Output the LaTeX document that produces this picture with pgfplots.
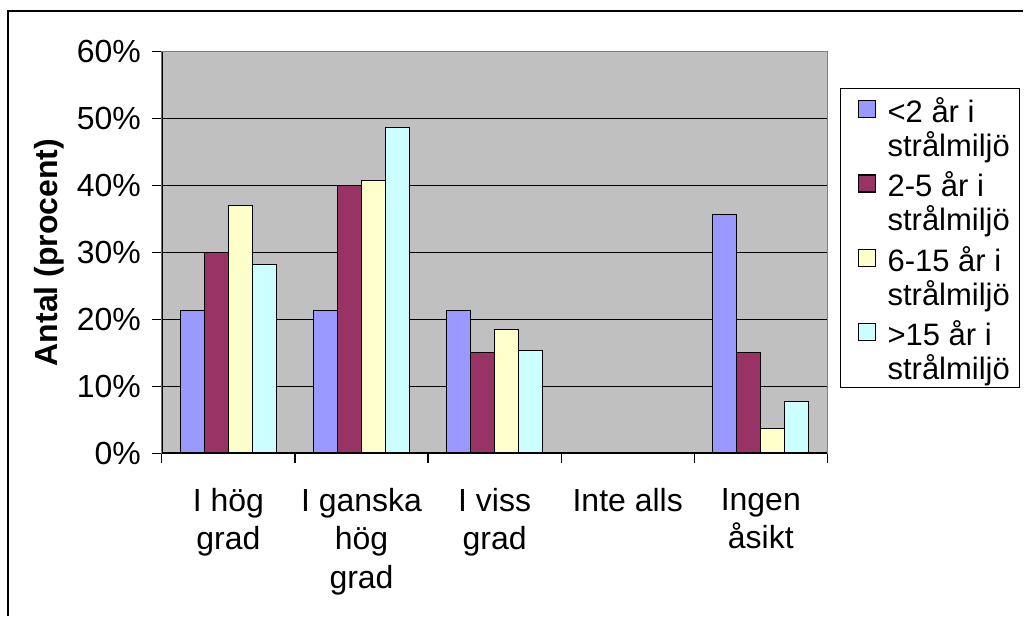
\documentclass[border=0pt]{standalone}
\usepackage{pgfplots}
\pgfplotsset{compat=1.18}
\usepackage{fontspec}
\setmainfont{Liberation Sans}
\definecolor{serA}{HTML}{9999FF}
\definecolor{serB}{HTML}{993366}
\definecolor{serC}{HTML}{FFFFCC}
\definecolor{serD}{HTML}{CCFFFF}
\definecolor{plotgray}{HTML}{C0C0C0}
% legend square with room on both sides
\pgfplotsset{sq/.style={legend image code/.code={
      \path[draw=none,fill=none] (0pt,0pt) -- (18.6pt,0pt);
      \draw[fill=#1,draw=black,line width=0.6pt] (6pt,-3.9pt) rectangle (14.5pt,4.6pt);}}}
\tikzset{first/.style={text height=16.5pt, text depth=4pt},
  second/.style={text height=13pt, text depth=3.7pt}}

\begin{document}
\begin{tikzpicture}
\begin{axis}[
    scale only axis,
    width=333pt, height=200.8pt,
    xmin=-0.5, xmax=4.5,
    ymin=0, ymax=60,
    ytick={0,10,...,60},
    yticklabel={\pgfmathprintnumber{\tick}\%},
    /pgf/number format/assume math mode=true,
    xtick={-0.5,0.5,...,4.5},
    xticklabels={{I hög\\grad},{I ganska\\hög\\grad},{I viss\\grad},{Inte alls},{Ingen\\åsikt}},
    x tick label as interval,
    xticklabel style={align=center, anchor=north, yshift=-9pt},
    yticklabel style={xshift=-2pt},
    tick align=outside,
    xtick pos=bottom, ytick pos=left,
    major tick length=5pt,
    tick style={black, line width=0.6pt},
    ymajorgrids,
    grid style={black, line width=0.6pt},
    axis line style={draw=gray, line width=0.6pt},
    axis background/.style={fill=plotgray},
    ylabel={\textbf{Antal (procent)}},
    ylabel style={at={(axis description cs:-0.17,0.5)}, anchor=center},
    font=\fontsize{16}{19.2}\selectfont,
    tick label style={font=\fontsize{16}{19.2}\selectfont},
    legend style={at={(axis description cs:1.0188,0.910)}, anchor=north west,
        draw=black, line width=0.6pt, fill=white,
        font=\fontsize{15.5}{17}\selectfont,
        cells={anchor=west}, row sep=0pt, inner xsep=3pt, inner ysep=0.4pt,
        nodes={inner ysep=0pt, inner xsep=2pt}},
  ]
  \addplot[ybar, bar width=12pt, bar shift=-18pt, fill=serA, draw=black, line width=0.5pt, forget plot]
    coordinates {(0,21.4) (1,21.4) (2,21.4) (4,35.7)};
  \addplot[ybar, bar width=12pt, bar shift=-6pt, fill=serB, draw=black, line width=0.5pt, forget plot]
    coordinates {(0,30.0) (1,40.0) (2,15.0) (4,15.0)};
  \addplot[ybar, bar width=12pt, bar shift=6pt, fill=serC, draw=black, line width=0.5pt, forget plot]
    coordinates {(0,37.0) (1,40.7) (2,18.5) (4,3.7)};
  \addplot[ybar, bar width=12pt, bar shift=18pt, fill=serD, draw=black, line width=0.5pt, forget plot]
    coordinates {(0,28.2) (1,48.7) (2,15.4) (4,7.7)};
  \addlegendimage{sq=serA}\addlegendentry[first]{<2 år i}
  \addlegendimage{empty legend}\addlegendentry[second]{strålmiljö}
  \addlegendimage{sq=serB}\addlegendentry[first]{2-5 år i}
  \addlegendimage{empty legend}\addlegendentry[second]{strålmiljö}
  \addlegendimage{sq=serC}\addlegendentry[first]{6-15 år i}
  \addlegendimage{empty legend}\addlegendentry[second]{strålmiljö}
  \addlegendimage{sq=serD}\addlegendentry[first]{>15 år i}
  \addlegendimage{empty legend}\addlegendentry[second]{strålmiljö}
  \draw[black, line width=0.7pt] (rel axis cs:0,1) -- (rel axis cs:0,0) -- (rel axis cs:1,0);
  \coordinate (O) at (rel axis cs:0,0);
\end{axis}
\pgfresetboundingbox
\path (O) ++(-81pt,-81.25pt) rectangle ++(512pt,308pt);
\draw[black, line width=0.8pt] (O) ++(-77pt,-81.25pt) |- ++(508pt,302.5pt);
\end{tikzpicture}
\end{document}
